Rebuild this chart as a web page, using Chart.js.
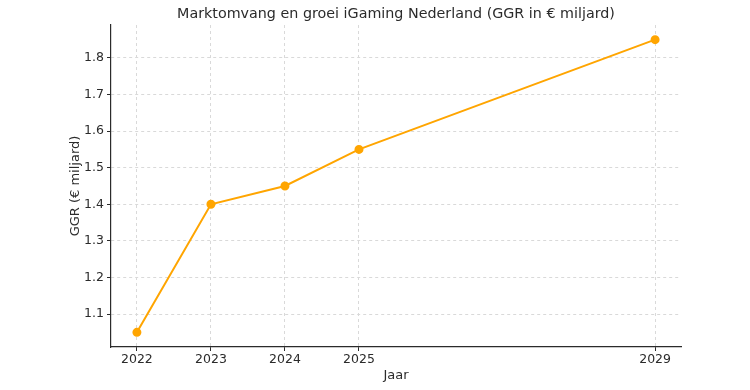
<!DOCTYPE html>
<html>
<head>
<meta charset="utf-8">
<script src="https://cdn.jsdelivr.net/npm/chart.js@4"></script>
<style>
  html, body { margin: 0; padding: 0; background: #fff; }
  #wrap { width: 750px; height: 390px; }
</style>
</head>
<body>
<div id="wrap"><canvas id="growthChart"></canvas></div>
<script>
const years = [2022, 2023, 2024, 2025, 2029];
const ggr = [1.05, 1.40, 1.45, 1.55, 1.85];
const yTicks = [1.1, 1.2, 1.3, 1.4, 1.5, 1.6, 1.7, 1.8];
const xTicks = [2022, 2023, 2024, 2025, 2029];
const chartTitle = 'Marktomvang en groei iGaming Nederland (GGR in € miljard)';

const lineColor = '#FFA500';
const inkColor = '#2b2b2b';
const gridColor = '#d9d9d9';
const fontFamily = '"DejaVu Sans", sans-serif';

// title centred over the plot area, like the original
const plotTitle = {
    id: 'plotTitle',
    afterDraw(chart) {
        const { ctx, chartArea } = chart;
        ctx.save();
        ctx.fillStyle = inkColor;
        ctx.font = '14.3px ' + fontFamily;
        ctx.textAlign = 'center';
        ctx.textBaseline = 'middle';
        ctx.fillText(chartTitle, (chartArea.left + chartArea.right) / 2, 14);
        ctx.restore();
    }
};

const ctx = document.getElementById('growthChart');

new Chart(ctx, {
    type: 'line',
    data: {
        datasets: [{
            label: 'GGR',
            data: years.map((y, i) => ({ x: y, y: ggr[i] })),
            borderColor: lineColor,
            backgroundColor: lineColor,
            borderWidth: 2,
            pointRadius: 3.5,
            pointHoverRadius: 3.5,
            tension: 0
        }]
    },
    plugins: [plotTitle],
    options: {
        responsive: true,
        maintainAspectRatio: false,
        animation: false,
        layout: { padding: { left: 64, right: 69, top: 25, bottom: 0 } },
        plugins: {
            legend: { display: false },
            tooltip: { enabled: false },
            title: { display: false }
        },
        scales: {
            x: {
                type: 'linear',
                min: 2021.65,
                max: 2029.35,
                afterBuildTicks: function (axis) {
                    axis.ticks = xTicks.map(v => ({ value: v }));
                },
                afterFit: function (axis) { axis.height = 43; },
                ticks: {
                    color: inkColor,
                    padding: 1,
                    font: { family: fontFamily, size: 12.5 },
                    callback: function (value) { return String(value); }
                },
                grid: {
                    color: gridColor,
                    tickColor: inkColor,
                    tickLength: 4,
                    tickBorderDash: []
                },
                border: { color: inkColor, width: 1.2, dash: [3, 3] },
                title: {
                    display: true,
                    text: 'Jaar',
                    color: inkColor,
                    font: { family: fontFamily, size: 13 },
                    padding: { top: 0, bottom: 7 }
                }
            },
            y: {
                min: 1.01,
                max: 1.89,
                afterBuildTicks: function (axis) {
                    axis.ticks = yTicks.map(v => ({ value: v }));
                },
                afterFit: function (axis) { axis.width = 47; },
                ticks: {
                    color: inkColor,
                    padding: 3,
                    font: { family: fontFamily, size: 12.5 },
                    callback: function (value) { return value.toFixed(1); }
                },
                grid: {
                    color: gridColor,
                    tickColor: inkColor,
                    tickLength: 4,
                    tickBorderDash: []
                },
                border: { color: inkColor, width: 1.2, dash: [3, 3] },
                title: {
                    display: true,
                    text: 'GGR (€ miljard)',
                    color: inkColor,
                    font: { family: fontFamily, size: 13 },
                    padding: { top: 4, bottom: 4 }
                }
            }
        }
    }
});
</script>
</body>
</html>
